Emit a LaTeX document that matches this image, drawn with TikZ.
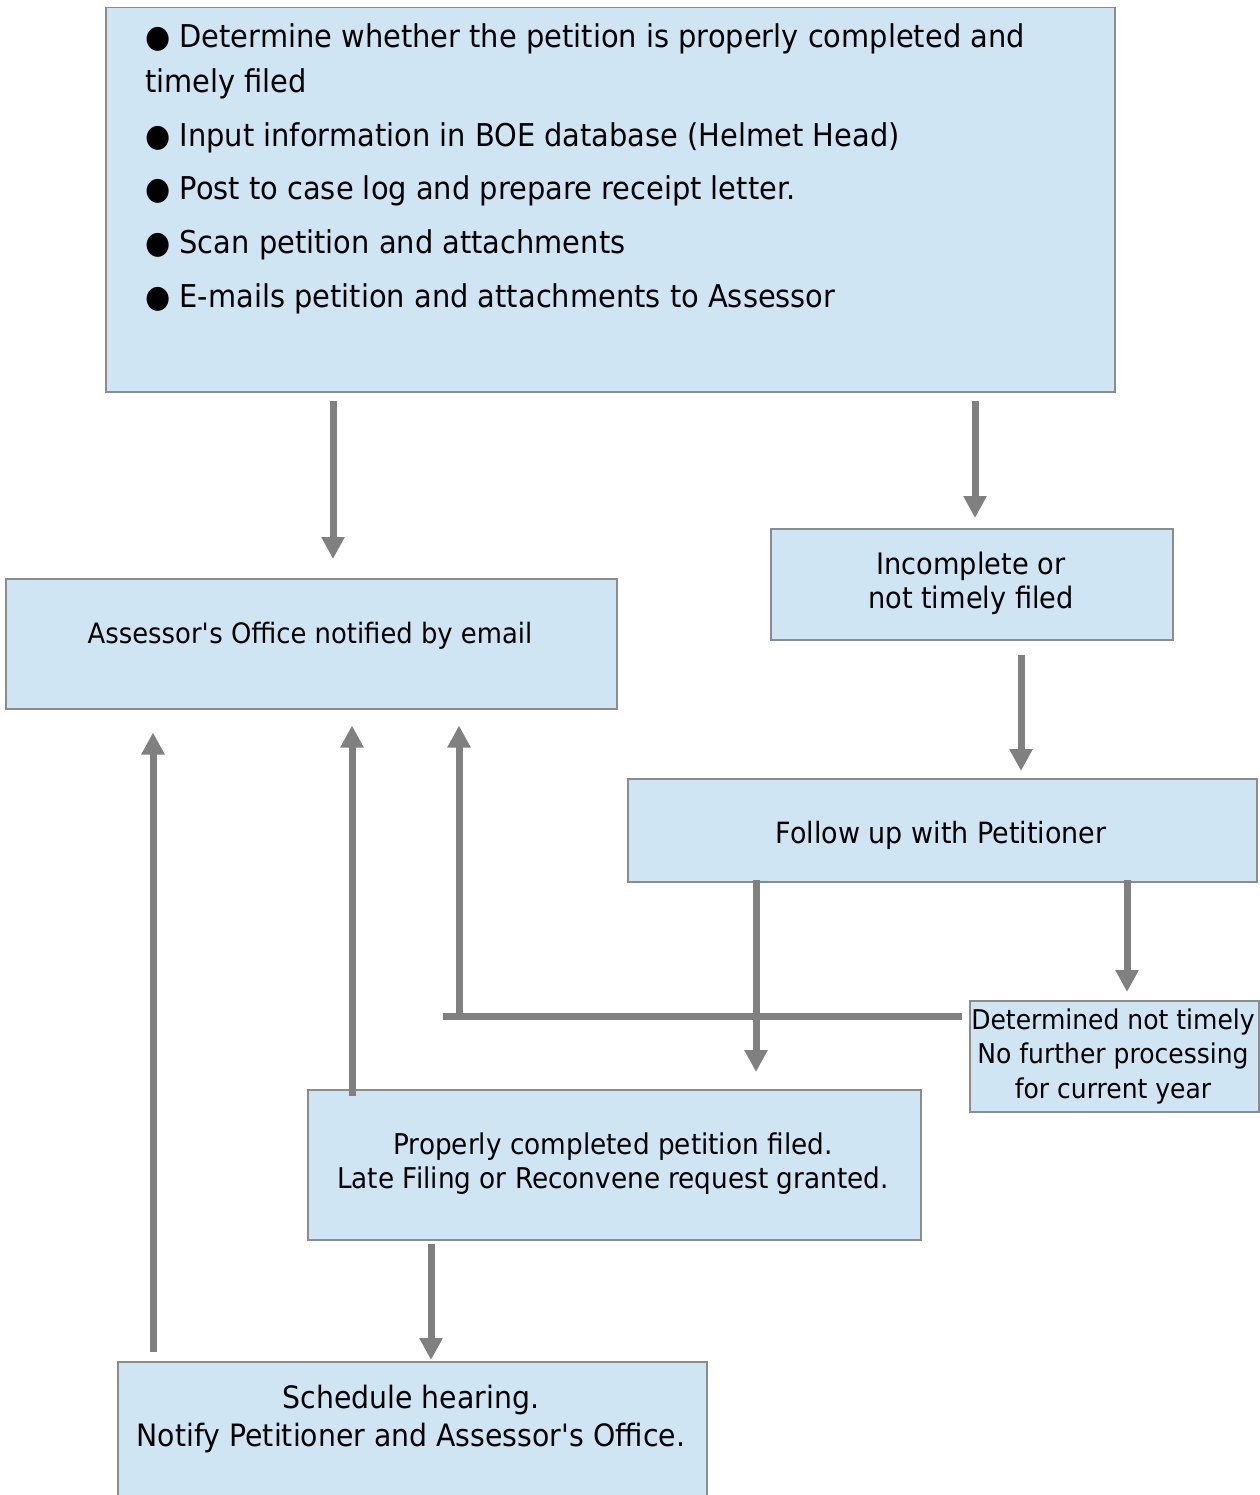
\documentclass[tikz,border=0pt]{standalone}
\usepackage{fontspec}
\setmainfont{DejaVu Sans}[FakeStretch=0.92]
\usetikzlibrary{arrows.meta}
\definecolor{boxfill}{HTML}{CFE5F3}
\definecolor{boxline}{HTML}{8C8C8C}
\definecolor{arrowgray}{HTML}{808080}
\begin{document}
\begin{tikzpicture}[x=1pt,y=-1pt,
  box/.style={draw=boxline, fill=boxfill, line width=1.5pt, rectangle, inner sep=0pt, anchor=north west},
  arr/.style={draw=arrowgray, line width=7pt, -{Triangle[width=22pt,length=22pt]}},
  conn/.style={draw=arrowgray, line width=7pt},
  bigtxt/.style={inner sep=0pt, anchor=base west, font=\fontsize{31.4}{36}\selectfont},
  midtxt/.style={inner sep=0pt, align=center, font=\fontsize{28.1}{34}\selectfont},
]
\useasboundingbox (0,0) rectangle (1259,1495);
% boxes
\node[box, minimum width=1009pt, minimum height=384pt] (top) at (105,7) {};
\node[box, minimum width=611pt, minimum height=130pt] (assess) at (5,578) {};
\node[box, minimum width=402pt, minimum height=111pt] (incomp) at (770,528) {};
\node[box, minimum width=629pt, minimum height=103pt] (follow) at (627,778) {};
\node[box, minimum width=289pt, minimum height=111pt] (determ) at (969,1000) {};
\node[box, minimum width=613pt, minimum height=150pt] (proper) at (307,1089) {};
\node[box, minimum width=589pt, minimum height=160pt] (sched) at (117,1361) {};
% top box text
\node[bigtxt] (t1) at (145,48) {● Determine whether the petition is properly completed and};
\node[bigtxt] (t1b) at (145,93) {timely filed};
\node[bigtxt] (t2) at (145,147) {● Input information in BOE database (Helmet Head)};
\node[bigtxt] (t3) at (145,200) {● Post to case log and prepare receipt letter.};
\node[bigtxt] (t4) at (145,254) {● Scan petition and attachments};
\node[bigtxt] (t5) at (145,308) {● E-mails petition and attachments to Assessor};
% other texts
\node[midtxt] (assesstxt) at (310,636) {Assessor\textquotesingle s Office notified by email};
\node[midtxt, font=\fontsize{29.6}{34}\selectfont] (incomptxt) at (971,583) {Incomplete or\\not timely filed};
\node[midtxt, font=\fontsize{29.3}{34}\selectfont] (followtxt) at (941,835) {Follow up with Petitioner};
\node[midtxt, font=\fontsize{27.2}{34.5}\selectfont] (determtxt) at (1113,1056) {Determined not timely\\No further processing\\for current year};
\node[midtxt, font=\fontsize{28.6}{34}\selectfont] (propertxt) at (613,1164) {Properly completed petition filed.\\Late Filing or Reconvene request granted.};
\node[midtxt, font=\fontsize{30.8}{38}\selectfont] (schedtxt) at (411,1419) {Schedule hearing.\\Notify Petitioner and Assessor\textquotesingle s Office.};
% coordinates for connector columns
\coordinate (c1) at (333,0);
\coordinate (c2) at (975,0);
\coordinate (c3) at (1021,0);
\coordinate (c4) at (756,0);
\coordinate (c5) at (1127,0);
\coordinate (c6) at (459,0);
\coordinate (c7) at (352,0);
\coordinate (c8) at (431,0);
\coordinate (c9) at (153,0);
\coordinate (hl) at (443,1016);
% arrows
\draw[arr] ([yshift=-8pt]top.south -| c1) -- ([yshift=19pt]assess.north -| c1);
\draw[arr] ([yshift=-8pt]top.south -| c2) -- ([yshift=10pt]incomp.north -| c2);
\draw[arr] ([yshift=-14pt]incomp.south -| c3) -- ([yshift=7pt]follow.north -| c3);
\draw[arr] ([yshift=3pt]follow.south -| c4) -- ([yshift=17pt]proper.north -| c4);
\draw[arr] ([yshift=3pt]follow.south -| c5) -- ([yshift=8pt]determ.north -| c5);
\draw[conn] ([xshift=-7pt]determ.west |- hl) -- (hl);
\draw[arr] (hl -| c6) -- ([yshift=-16pt]assess.south -| c6);
\draw[arr] ([yshift=-7pt]proper.north -| c7) -- ([yshift=-16pt]assess.south -| c7);
\draw[arr] ([yshift=-3pt]proper.south -| c8) -- ([yshift=1pt]sched.north -| c8);
\draw[arr] ([yshift=9pt]sched.north -| c9) -- ([yshift=-23pt]assess.south -| c9);
\end{tikzpicture}
\end{document}
